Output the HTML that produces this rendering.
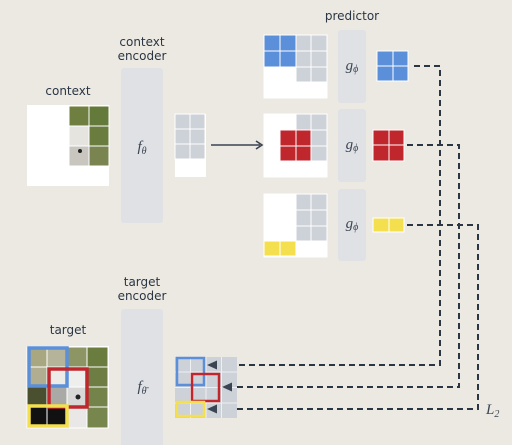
<!DOCTYPE html>
<html><head><style>
html,body{margin:0;padding:0;background:#ece9e2;}
svg{display:block}
text{font-family:"DejaVu Sans","Liberation Sans",sans-serif;fill:#2a3644;}
.it{font-family:"Liberation Serif",serif;font-style:italic;fill:#3a4452;}
</style></head><body>
<svg width="512" height="445" viewBox="0 0 512 445" xmlns="http://www.w3.org/2000/svg">
<rect width="512" height="445" fill="#ece9e2"/>
<text x="68" y="95" font-size="12" text-anchor="middle">context</text>
<text x="142" y="46" font-size="12" text-anchor="middle">context</text>
<text x="142" y="60" font-size="12" text-anchor="middle">encoder</text>
<text x="352" y="20" font-size="12" text-anchor="middle">predictor</text>
<text x="142" y="286" font-size="12" text-anchor="middle">target</text>
<text x="142" y="300" font-size="12" text-anchor="middle">encoder</text>
<text x="68" y="334" font-size="12" text-anchor="middle">target</text>

<rect x="27" y="105" width="82" height="81" fill="#fff"/>
<g stroke="#fff" stroke-width="1">
<rect x="69" y="106" width="20" height="20" fill="#6f7f3f"/>
<rect x="89" y="106" width="20" height="20" fill="#647a3a"/>
<rect x="69" y="126" width="20" height="20" fill="#e6e4df"/>
<rect x="89" y="126" width="20" height="20" fill="#6b7c3f"/>
<rect x="69" y="146" width="20" height="20" fill="#c9c6c0"/>
<rect x="89" y="146" width="20" height="20" fill="#7a8450"/>
</g>
<circle cx="80" cy="151" r="2" fill="#222"/>

<rect x="121" y="68" width="42" height="155" rx="3" fill="#dfe1e5"/>
<text class="it" x="142" y="151" font-size="15" text-anchor="middle">f<tspan font-size="10" dy="3">θ</tspan></text>
<rect x="121" y="309" width="42" height="140" rx="3" fill="#dfe1e5"/>
<text class="it" x="142" y="391" font-size="15" text-anchor="middle">f<tspan font-size="10" dy="3">θ̄</tspan></text>

<rect x="175" y="114" width="31" height="63" fill="#fff"/>
<g fill="#cdd1d8" stroke="#fff" stroke-width="1">
<rect x="175" y="114" width="15" height="15"/><rect x="190" y="114" width="15" height="15"/>
<rect x="175" y="129" width="15" height="15"/><rect x="190" y="129" width="15" height="15"/>
<rect x="175" y="144" width="15" height="15"/><rect x="190" y="144" width="15" height="15"/>
</g>
<line x1="211" y1="145" x2="260" y2="145" stroke="#3a4452" stroke-width="1.6"/>
<path d="M256 141 L262 145 L256 149" fill="none" stroke="#3a4452" stroke-width="1.6"/>

<g stroke="#fff" stroke-width="1">
<rect x="264" y="35" width="63" height="63" fill="#fff"/>
<rect x="264" y="35" width="16" height="16" fill="#5b8fd9"/><rect x="280" y="35" width="16" height="16" fill="#5b8fd9"/>
<rect x="264" y="51" width="16" height="16" fill="#5b8fd9"/><rect x="280" y="51" width="16" height="16" fill="#5b8fd9"/>
<rect x="296" y="35" width="15" height="16" fill="#cdd1d8"/><rect x="311" y="35" width="16" height="16" fill="#cdd1d8"/>
<rect x="296" y="51" width="15" height="16" fill="#cdd1d8"/><rect x="311" y="51" width="16" height="16" fill="#cdd1d8"/>
<rect x="296" y="67" width="15" height="15" fill="#cdd1d8"/><rect x="311" y="67" width="16" height="15" fill="#cdd1d8"/>

<rect x="264" y="114" width="63" height="63" fill="#fff"/>
<rect x="296" y="114" width="15" height="16" fill="#cdd1d8"/><rect x="311" y="114" width="16" height="16" fill="#cdd1d8"/>
<rect x="311" y="130" width="16" height="16" fill="#cdd1d8"/><rect x="311" y="146" width="16" height="15" fill="#cdd1d8"/>
<rect x="280" y="130" width="16" height="16" fill="#c0272d"/><rect x="296" y="130" width="15" height="16" fill="#c0272d"/>
<rect x="280" y="146" width="16" height="15" fill="#c0272d"/><rect x="296" y="146" width="15" height="15" fill="#c0272d"/>

<rect x="264" y="194" width="63" height="63" fill="#fff"/>
<rect x="296" y="194" width="15" height="16" fill="#cdd1d8"/><rect x="311" y="194" width="16" height="16" fill="#cdd1d8"/>
<rect x="296" y="210" width="15" height="16" fill="#cdd1d8"/><rect x="311" y="210" width="16" height="16" fill="#cdd1d8"/>
<rect x="296" y="226" width="15" height="15" fill="#cdd1d8"/><rect x="311" y="226" width="16" height="15" fill="#cdd1d8"/>
<rect x="264" y="241" width="16" height="15" fill="#f4e04f"/><rect x="280" y="241" width="16" height="15" fill="#f4e04f"/>
</g>

<rect x="338" y="30" width="28" height="73" rx="3" fill="#dfe1e5"/>
<rect x="338" y="109" width="28" height="73" rx="3" fill="#dfe1e5"/>
<rect x="338" y="189" width="28" height="72" rx="3" fill="#dfe1e5"/>
<text class="it" x="352" y="70" font-size="15" text-anchor="middle">g<tspan font-size="10" dy="2">ϕ</tspan></text>
<text class="it" x="352" y="149" font-size="15" text-anchor="middle">g<tspan font-size="10" dy="2">ϕ</tspan></text>
<text class="it" x="352" y="228" font-size="15" text-anchor="middle">g<tspan font-size="10" dy="2">ϕ</tspan></text>

<g stroke="#fff" stroke-width="1">
<rect x="377" y="51" width="16" height="15" fill="#5b8fd9"/><rect x="393" y="51" width="15" height="15" fill="#5b8fd9"/>
<rect x="377" y="66" width="16" height="15" fill="#5b8fd9"/><rect x="393" y="66" width="15" height="15" fill="#5b8fd9"/>
<rect x="373" y="130" width="16" height="15" fill="#c0272d"/><rect x="389" y="130" width="15" height="15" fill="#c0272d"/>
<rect x="373" y="145" width="16" height="16" fill="#c0272d"/><rect x="389" y="145" width="15" height="16" fill="#c0272d"/>
<rect x="373" y="218" width="16" height="14" fill="#f4e04f"/><rect x="389" y="218" width="15" height="14" fill="#f4e04f"/>
</g>

<g fill="none" stroke="#2a3644" stroke-width="2" stroke-dasharray="6,4">
<path d="M414 66 H440 V365 H216"/>
<path d="M407 145 H459 V387 H231"/>
<path d="M407 225 H478 V409 H216"/>
</g>
<text class="it" x="486" y="414" font-size="15">L<tspan font-size="10" dy="3">2</tspan></text>

<rect x="27" y="346" width="82" height="82" fill="#fff"/>
<g stroke="#fff" stroke-width="1">
<rect x="27" y="347" width="20" height="20" fill="#a8a77f"/><rect x="47" y="347" width="20" height="20" fill="#b5b49a"/>
<rect x="67" y="347" width="20" height="20" fill="#8e9565"/><rect x="87" y="347" width="21" height="20" fill="#6b7c3f"/>
<rect x="27" y="367" width="20" height="20" fill="#b0ad90"/><rect x="47" y="367" width="20" height="20" fill="#ecebe8"/>
<rect x="67" y="367" width="20" height="20" fill="#eeeeec"/><rect x="87" y="367" width="21" height="20" fill="#6e7d43"/>
<rect x="27" y="387" width="20" height="20" fill="#4a4f30"/><rect x="47" y="387" width="20" height="20" fill="#a9a9a6"/>
<rect x="67" y="387" width="20" height="20" fill="#d8d8d6"/><rect x="87" y="387" width="21" height="20" fill="#74834a"/>
<rect x="27" y="407" width="20" height="21" fill="#111"/><rect x="47" y="407" width="20" height="21" fill="#111"/>
<rect x="67" y="407" width="20" height="21" fill="#e9e8e6"/><rect x="87" y="407" width="21" height="21" fill="#77864c"/>
</g>
<circle cx="78" cy="397" r="2.5" fill="#222"/>
<g fill="none" stroke-width="3.5">
<rect x="29" y="348" width="38" height="38" stroke="#5b8fd9"/>
<rect x="49" y="369" width="38" height="38" stroke="#c0272d"/>
<rect x="29" y="406" width="38" height="20" stroke="#f4e04f"/>
</g>

<rect x="175" y="357" width="62" height="61" fill="#cdd1d8"/>
<g stroke="#eef0f3" stroke-width="1">
<line x1="190.5" y1="357" x2="190.5" y2="418"/><line x1="206" y1="357" x2="206" y2="418"/><line x1="221.5" y1="357" x2="221.5" y2="418"/>
<line x1="175" y1="372" x2="237" y2="372"/><line x1="175" y1="387.5" x2="237" y2="387.5"/><line x1="175" y1="403" x2="237" y2="403"/>
</g>
<g fill="none" stroke-width="2.5">
<rect x="177" y="358" width="27" height="27" stroke="#5b8fd9"/>
<rect x="192" y="374" width="27" height="27" stroke="#c0272d"/>
<rect x="177" y="402" width="27" height="14" stroke="#f4e04f"/>
</g>
<g fill="#3a4452">
<path d="M207 365 L217 360.5 L217 369.5 Z"/>
<path d="M222 387 L232 382.5 L232 391.5 Z"/>
<path d="M207 409 L217 404.5 L217 413.5 Z"/>
</g>
</svg>
</body></html>
